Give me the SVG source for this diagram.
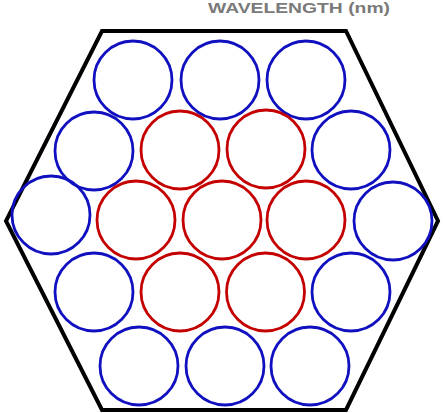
<svg xmlns="http://www.w3.org/2000/svg" width="443" height="413" viewBox="0 0 443 413">
<style>
.hex{fill:none;stroke:#000;stroke-width:4;stroke-linejoin:miter}
.b{fill:none;stroke:#1010c0;stroke-width:2.8}
.r{fill:none;stroke:#c40000;stroke-width:2.8}
.lbl{font-family:"Liberation Sans",Arial,sans-serif;font-weight:bold;font-size:15px;fill:#7a7a7a}
</style>
<rect width="443" height="413" fill="#fff"/>
<text class="lbl" x="208" y="13" textLength="182" lengthAdjust="spacingAndGlyphs">WAVELENGTH (nm)</text>
<g id="hexagon"><polygon class="hex" points="102,31 346,31 438,221 346,410 102,410 6,221"/></g>
<g id="nodes">
<g id="c1"><circle class="b" cx="133" cy="80" r="39"/></g>
<g id="c2"><circle class="b" cx="220" cy="80" r="39"/></g>
<g id="c3"><circle class="b" cx="306" cy="80" r="39"/></g>
<g id="c4"><circle class="b" cx="94" cy="151" r="39"/></g>
<g id="c5"><circle class="r" cx="180" cy="150" r="39"/></g>
<g id="c6"><circle class="r" cx="266" cy="149" r="39"/></g>
<g id="c7"><circle class="b" cx="351" cy="150" r="39"/></g>
<g id="c8"><circle class="b" cx="51" cy="215" r="39"/></g>
<g id="c9"><circle class="r" cx="136" cy="220" r="39"/></g>
<g id="c10"><circle class="r" cx="222" cy="220" r="39"/></g>
<g id="c11"><circle class="r" cx="306" cy="220" r="39"/></g>
<g id="c12"><circle class="b" cx="393" cy="221" r="39"/></g>
<g id="c13"><circle class="b" cx="94" cy="292" r="39"/></g>
<g id="c14"><circle class="r" cx="180" cy="292" r="39"/></g>
<g id="c15"><circle class="r" cx="265.5" cy="292" r="39"/></g>
<g id="c16"><circle class="b" cx="351" cy="292" r="39"/></g>
<g id="c17"><circle class="b" cx="139" cy="366" r="39"/></g>
<g id="c18"><circle class="b" cx="225" cy="366" r="39"/></g>
<g id="c19"><circle class="b" cx="310" cy="366" r="39"/></g>
</g>
</svg>
